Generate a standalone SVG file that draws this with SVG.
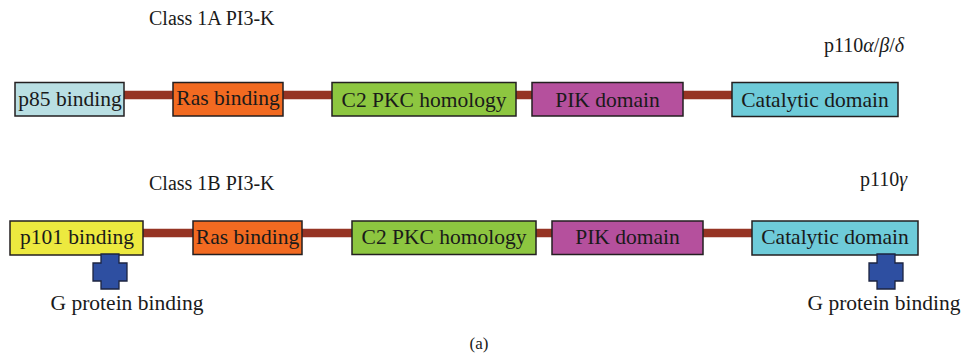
<svg xmlns="http://www.w3.org/2000/svg" width="962" height="361" viewBox="0 0 962 361" font-family="'Liberation Serif', 'Times New Roman', 'DejaVu Serif', serif">
  <style>
    text { font-family: 'Liberation Serif', 'Times New Roman', 'DejaVu Serif', serif; fill: #1a1a1a; }
    .title { font-size: 20px; }
    .label { font-size: 21.5px; text-anchor: middle; }
    .box { stroke: #231f20; stroke-width: 1.5; }
    .link { stroke: #963424; stroke-width: 8.5; }
    .gpb { fill: #2e4fa1; stroke: #1c2440; stroke-width: 1.3; }
    .p85 { fill: #b9dfe3; }
    .ras { fill: #f26a21; }
    .c2 { fill: #8dc640; }
    .pik { fill: #b5509d; }
    .cat { fill: #6ecbd9; }
    .p101 { fill: #ede93f; }
    .gk { font-style: italic; }
  </style>
  <defs>
    <!-- plus-shaped G protein binding marker, origin at top-left -->
    <path id="plus" class="gpb" d="M8,0 H26 V9 H34 V27 H26 V35 H8 V27 H0 V9 H8 Z"/>
  </defs>

  <rect width="962" height="361" fill="#ffffff"/>

  <!-- headings -->
  <text class="title" x="149" y="25">Class 1A PI3-K</text>
  <text class="title" x="824" y="52">p110<tspan class="gk">α</tspan>/<tspan class="gk">β</tspan>/<tspan class="gk">δ</tspan></text>
  <text class="title" x="149" y="190">Class 1B PI3-K</text>
  <text class="title" x="860" y="186">p110<tspan class="gk">γ</tspan></text>

  <!-- linkers between domains -->
  <g id="connectors">
    <line class="link" x1="124" y1="95" x2="173" y2="95"/>
    <line class="link" x1="283" y1="95" x2="332" y2="95"/>
    <line class="link" x1="516" y1="95" x2="532" y2="95"/>
    <line class="link" x1="683" y1="95" x2="732" y2="95"/>
    <line class="link" x1="143" y1="233" x2="193" y2="233"/>
    <line class="link" x1="302" y1="233" x2="352" y2="233"/>
    <line class="link" x1="536" y1="233" x2="552" y2="233"/>
    <line class="link" x1="703" y1="233" x2="752" y2="233"/>
  </g>

  <!-- Class 1A domains -->
  <g id="a-p85">
    <rect class="box p85" x="15" y="82.5" width="109" height="33.5"/>
    <text class="label" x="70" y="106">p85 binding</text>
  </g>
  <g id="a-ras">
    <rect class="box ras" x="173" y="82.5" width="110" height="33.5"/>
    <text class="label" x="228" y="105">Ras binding</text>
  </g>
  <g id="a-c2">
    <rect class="box c2" x="332" y="82.5" width="184" height="33.5"/>
    <text class="label" x="424" y="107">C2 PKC homology</text>
  </g>
  <g id="a-pik">
    <rect class="box pik" x="532" y="82.5" width="151" height="33.5"/>
    <text class="label" x="607.5" y="107">PIK domain</text>
  </g>
  <g id="a-cat">
    <rect class="box cat" x="732" y="82.5" width="166" height="34"/>
    <text class="label" x="815" y="107">Catalytic domain</text>
  </g>

  <!-- Class 1B domains -->
  <g id="b-p101">
    <rect class="box p101" x="10" y="221" width="133" height="34"/>
    <text class="label" x="77" y="244">p101 binding</text>
  </g>
  <g id="b-ras">
    <rect class="box ras" x="193" y="221" width="109" height="33.5"/>
    <text class="label" x="247.5" y="244">Ras binding</text>
  </g>
  <g id="b-c2">
    <rect class="box c2" x="352" y="221" width="184" height="33.5"/>
    <text class="label" x="444" y="244">C2 PKC homology</text>
  </g>
  <g id="b-pik">
    <rect class="box pik" x="552" y="221" width="151" height="33.5"/>
    <text class="label" x="627.5" y="244">PIK domain</text>
  </g>
  <g id="b-cat">
    <rect class="box cat" x="752" y="221" width="166" height="34"/>
    <text class="label" x="835" y="244">Catalytic domain</text>
  </g>

  <!-- G protein binding sites -->
  <g id="gpb-left">
    <use href="#plus" x="93" y="254"/>
    <text class="label" x="127" y="310">G protein binding</text>
  </g>
  <g id="gpb-right">
    <use href="#plus" x="869" y="254"/>
    <text class="label" x="884" y="310">G protein binding</text>
  </g>

  <text style="font-size:17px; text-anchor:middle" x="479" y="349">(a)</text>
</svg>
